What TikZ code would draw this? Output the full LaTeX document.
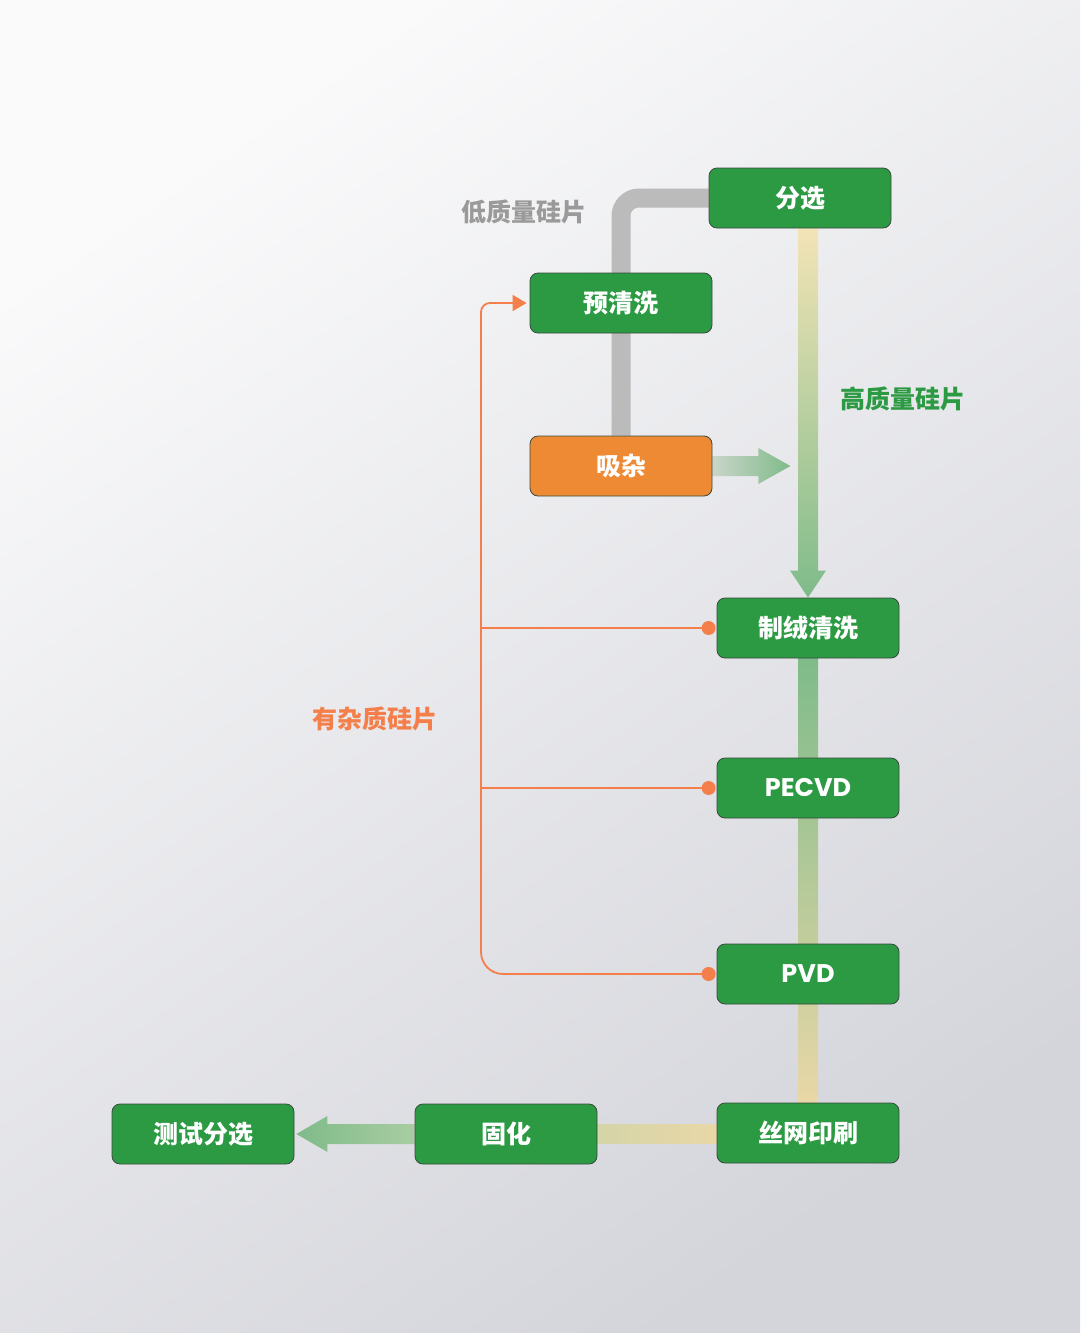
\documentclass[tikz,border=0pt]{standalone}
\usepackage{fontspec}
\newfontfamily\cjk{Noto Sans CJK SC}
\newfontfamily\lat{Poppins}
\usetikzlibrary{arrows.meta,calc}
\pgfdeclarelayer{back}
\pgfdeclarelayer{bars}
\pgfsetlayers{back,bars,main}
\definecolor{boxgreen}{HTML}{2B9A43}
\definecolor{boxorange}{HTML}{EE8A33}
\definecolor{boxline}{HTML}{3A4A3E}
\definecolor{oline}{HTML}{F47F4A}
\definecolor{lowgray}{HTML}{BBBBBB}
\definecolor{labgray}{HTML}{9A9A9A}
\definecolor{bgtop}{HTML}{FAFAFB}
\definecolor{bgbot}{HTML}{D4D5DB}
\definecolor{barY}{HTML}{F3E4B6}
\definecolor{barG}{HTML}{7FBB8A}
\definecolor{barY2}{HTML}{E9D7A7}
\definecolor{barM}{HTML}{B5CCA0}
\begin{document}
\begin{tikzpicture}[x=1pt,y=-1pt,
  box/.style={rounded corners=8pt, minimum width=182pt, minimum height=60pt,
    inner sep=0pt, fill=boxgreen, draw=boxline, line width=0.8pt, text=white,
    font=\cjk\bfseries\fontsize{25}{29}\selectfont},
  latbox/.style={box, font=\lat\bfseries\fontsize{25.5}{29}\selectfont},
  lab/.style={inner sep=0pt, font=\cjk\bfseries\fontsize{25}{29}\selectfont},
  oline/.style={draw=oline, line width=1.8pt},
  odot/.style={circle, fill=oline, minimum size=14pt, inner sep=0pt}]
\begin{pgfonlayer}{back}
\shade[top color=bgtop, bottom color=bgbot, shading angle=35] (0,0) rectangle (1080,1333);
\end{pgfonlayer}
\useasboundingbox (0,0) rectangle (1080,1333);

% nodes
\node[box] (fx) at (800,198) {分选};
\node[box] (yq) at (621,303) {预清洗};
\node[box, fill=boxorange] (xz) at (621,466) {吸杂};
\node[box] (zr) at (808,628) {制绒清洗};
\node[latbox] (pe) at (808,788) {PECVD};
\node[latbox] (pvd) at (808,974) {PVD};
\node[box] (sw) at (808,1133) {丝网印刷};
\node[box] (gh) at (506,1134) {固化};
\node[box] (cs) at (203,1134) {测试分选};

% labels
\node[lab, text=labgray] (l1) at (524,212) {低质量硅片};
\node[lab, text=boxgreen] (l2) at (903,399) {高质量硅片};
\node[lab, text=oline] (l3) at (375,719) {有杂质硅片};

% thick bars
\begin{pgfonlayer}{bars}
\draw[line width=19pt, lowgray, rounded corners=18pt] (fx.west) -| (xz.north);
\coordinate (vt) at (fx.south -| zr.north);
\shade[top color=barY, bottom color=barG]
  ($(vt)+(-10,0)$) -- ($(zr.north)+(-10,-27)$) -- ($(zr.north)+(-18,-27)$) --
  (zr.north) -- ($(zr.north)+(18,-27)$) -- ($(zr.north)+(10,-27)$) --
  ($(vt)+(10,0)$) -- cycle;
\shade[left color={rgb,255:red,202;green,213;blue,202}, right color=barG]
  ($(xz.east)+(0,-10)$) -- ($(xz.east)+(46,-10)$) -- ($(xz.east)+(46,-18)$) --
  ($(xz.east)+(78,0)$) -- ($(xz.east)+(46,18)$) -- ($(xz.east)+(46,10)$) --
  ($(xz.east)+(0,10)$) -- cycle;
\shade[top color=barG, middle color=barM, bottom color=barY2]
  ($(zr.south)+(-10,0)$) rectangle ($(sw.north)+(10,0)$);
\shade[left color={rgb,255:red,212;green,213;blue,168}, right color=barY2]
  ($(gh.east)+(0,-10)$) rectangle ($(sw.west)+(0,10)$);
\shade[left color=barG, right color={rgb,255:red,169;green,205;blue,162}]
  ($(gh.west)+(0,-10)$) -- ($(cs.east)+(33,-10)$) -- ($(cs.east)+(33,-18)$) --
  ($(cs.east)+(2,0)$) -- ($(cs.east)+(33,18)$) -- ($(cs.east)+(33,10)$) --
  ($(gh.west)+(0,10)$) -- cycle;
\end{pgfonlayer}

% orange impurity lines
\coordinate (ox) at (481,700);
\coordinate (c1) at ($(zr.west)+(-8,0)$);
\coordinate (c2) at ($(pe.west)+(-8,0)$);
\coordinate (c3) at ($(pvd.west)+(-8,0)$);
\draw[oline] (c1 -| ox) -- (c1);
\draw[oline] (c2 -| ox) -- (c2);
\draw[oline, rounded corners=22pt] (c3) -| (ox);
\draw[oline, rounded corners=9pt, -{Triangle[length=14pt,width=16pt]}, shorten >=3pt] (ox) |- (yq.west);
\node[odot] (d1) at (c1) {};
\node[odot] (d2) at (c2) {};
\node[odot] (d3) at (c3) {};
\end{tikzpicture}
\end{document}
